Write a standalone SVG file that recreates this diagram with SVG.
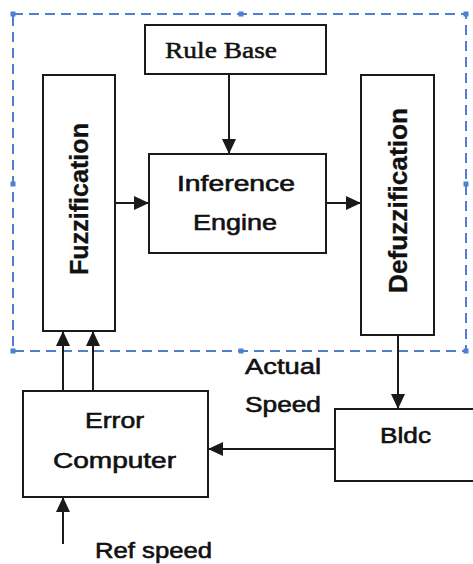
<svg xmlns="http://www.w3.org/2000/svg" width="473" height="564" viewBox="0 0 473 564">
<style>
.box{fill:#fff;stroke:#1a1a1a;stroke-width:2}
.ln{fill:none;stroke:#1a1a1a;stroke-width:2}
.sans{font-family:"Liberation Sans",Arial,sans-serif;font-size:22px;fill:#111;stroke:#111;stroke-width:0.6}
.bold{font-weight:bold;font-size:25px;stroke-width:0.3}
.serif{font-family:"Liberation Serif","Times New Roman",serif;font-size:23px;fill:#111;stroke:#111;stroke-width:0.5}
.dash{fill:none;stroke:#4f7fd4;stroke-width:2;stroke-dasharray:10 6}
.hd{fill:#4f7fd4}
</style>
<defs>
<marker id="ah" markerUnits="userSpaceOnUse" markerWidth="15" markerHeight="14" refX="15" refY="7" orient="auto">
<path d="M0,0 L15,7 L0,14 Z" fill="#1a1a1a"/>
</marker>
</defs>
<g id="frame">
<rect class="dash" x="13" y="14" width="453" height="337"/>
<rect class="hd" x="10.5" y="11.5" width="5" height="5"/>
<rect class="hd" x="238.5" y="11.5" width="5" height="5"/>
<rect class="hd" x="463.5" y="11.5" width="5" height="5"/>
<rect class="hd" x="10.5" y="181.5" width="5" height="5"/>
<rect class="hd" x="463.5" y="181.5" width="5" height="5"/>
<rect class="hd" x="10.5" y="348.5" width="5" height="5"/>
<rect class="hd" x="238.5" y="348.5" width="5" height="5"/>
<rect class="hd" x="463.5" y="348.5" width="5" height="5"/>
</g>
<g id="connectors">
<line class="ln" x1="229" y1="74" x2="229" y2="154" marker-end="url(#ah)"/>
<line class="ln" x1="115" y1="203" x2="149" y2="203" marker-end="url(#ah)"/>
<line class="ln" x1="326" y1="203" x2="361" y2="203" marker-end="url(#ah)"/>
<line class="ln" x1="398" y1="335" x2="398" y2="409" marker-end="url(#ah)"/>
<line class="ln" x1="335" y1="449" x2="208" y2="449" marker-end="url(#ah)"/>
<line class="ln" x1="63" y1="391" x2="63" y2="331" marker-end="url(#ah)"/>
<line class="ln" x1="93" y1="391" x2="93" y2="331" marker-end="url(#ah)"/>
<line class="ln" x1="63" y1="544" x2="63" y2="497" marker-end="url(#ah)"/>
</g>
<g id="rule-base">
<rect class="box" x="145" y="25" width="181" height="49"/>
<text class="serif" x="165" y="58" textLength="112" lengthAdjust="spacingAndGlyphs">Rule Base</text>
</g>
<g id="fuzzification">
<rect class="box" x="43" y="75" width="72" height="256"/>
<text class="sans bold" transform="translate(88,199) rotate(-90)" text-anchor="middle" textLength="152" lengthAdjust="spacingAndGlyphs">Fuzzification</text>
</g>
<g id="inference-engine">
<rect class="box" x="149" y="154" width="177" height="99"/>
<text class="sans" x="177" y="191" textLength="118" lengthAdjust="spacingAndGlyphs">Inference</text>
<text class="sans" x="193" y="230" textLength="84" lengthAdjust="spacingAndGlyphs">Engine</text>
</g>
<g id="defuzzification">
<rect class="box" x="361" y="75" width="73" height="260"/>
<text class="sans bold" transform="translate(407,200.5) rotate(-90)" text-anchor="middle" textLength="185" lengthAdjust="spacingAndGlyphs">Defuzzification</text>
</g>
<g id="bldc">
<rect class="box" x="335" y="409" width="145" height="72"/>
<text class="sans" x="380" y="443" textLength="51" lengthAdjust="spacingAndGlyphs">Bldc</text>
</g>
<g id="error-computer">
<rect class="box" x="23" y="391" width="185" height="106"/>
<text class="sans" x="85" y="428" textLength="59" lengthAdjust="spacingAndGlyphs">Error</text>
<text class="sans" x="53" y="468" textLength="123" lengthAdjust="spacingAndGlyphs">Computer</text>
</g>
<g id="labels">
<text class="sans" x="245" y="374" textLength="76" lengthAdjust="spacingAndGlyphs">Actual</text>
<text class="sans" x="245" y="412" textLength="76" lengthAdjust="spacingAndGlyphs">Speed</text>
<text class="sans" x="95" y="558" textLength="117" lengthAdjust="spacingAndGlyphs">Ref speed</text>
</g>
</svg>
